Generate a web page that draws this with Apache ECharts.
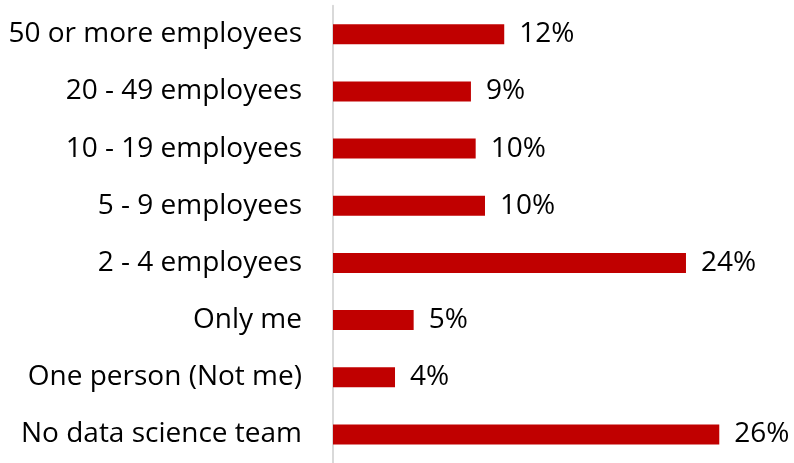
<!DOCTYPE html>
<html>
<head>
<meta charset="utf-8">
<script src="https://cdn.jsdelivr.net/npm/echarts@6/dist/echarts.min.js"></script>
<style>
  html, body { margin: 0; padding: 0; background: #fff; }
  #chart { width: 794px; height: 463px; }
</style>
</head>
<body>
<div id="chart"></div>
<script>
// Size of the data science team, listed top to bottom
const teamSizes = [
  '50 or more employees',
  '20 - 49 employees',
  '10 - 19 employees',
  '5 - 9 employees',
  '2 - 4 employees',
  'Only me',
  'One person (Not me)',
  'No data science team'
];
// Share of respondents (%)
const shares = [11.57, 9.32, 9.64, 10.27, 23.85, 5.45, 4.19, 26.1];

const FONT = '"Open Sans", "Noto Sans", sans-serif';

const chart = echarts.init(document.getElementById('chart'), null, { renderer: 'canvas' });
chart.setOption({
  animation: false,
  backgroundColor: '#ffffff',
  grid: { left: 333, right: 17, top: 5.7, bottom: -4.4, containLabel: false },
  xAxis: {
    type: 'value',
    min: 0,
    max: 30,
    show: false
  },
  yAxis: {
    type: 'category',
    inverse: true,
    data: teamSizes,
    axisLine: { show: true, lineStyle: { color: '#d9d9d9', width: 2 } },
    axisTick: { show: false },
    axisLabel: {
      margin: 31,
      color: '#000000',
      fontFamily: FONT,
      fontSize: 28
    }
  },
  series: [{
    type: 'bar',
    data: shares,
    barWidth: 20,
    itemStyle: { color: '#c00000' },
    label: {
      show: true,
      position: 'right',
      distance: 15,
      color: '#000000',
      fontFamily: FONT,
      fontSize: 28,
      formatter: p => Math.round(p.value) + '%'
    }
  }]
});
</script>
</body>
</html>
